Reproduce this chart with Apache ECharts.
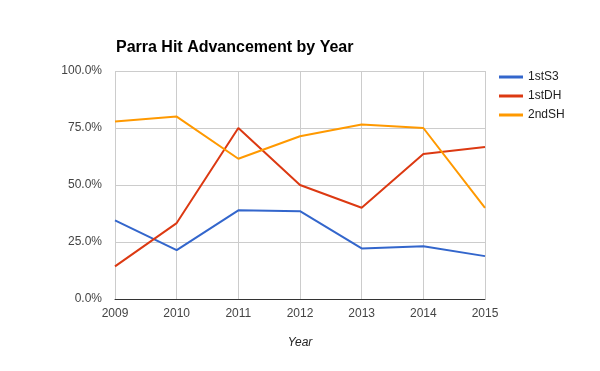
<!DOCTYPE html>
<html><head><meta charset="utf-8">
<script src="https://cdn.jsdelivr.net/npm/echarts@6/dist/echarts.min.js"></script>
<style>html,body{margin:0;padding:0;background:#fff}#c{width:600px;height:371px}</style>
</head><body><div id="c"></div>
<script>
var years = ['2009','2010','2011','2012','2013','2014','2015'];
var s1stS3 = [0.345, 0.214, 0.389, 0.385, 0.222, 0.231, 0.188];
var s1stDH = [0.143, 0.333, 0.75, 0.5, 0.4, 0.636, 0.667];
var s2ndSH = [0.778, 0.8, 0.615, 0.714, 0.765, 0.75, 0.4];
var yTicks = [0, 0.25, 0.5, 0.75, 1];

var font = 'Arial, "Liberation Sans", sans-serif';
var chart = echarts.init(document.getElementById('c'), null, {renderer:'canvas'});
function mk(name, data, color){
  return {name:name, type:'line', data:data, symbol:'none', smooth:false,
    lineStyle:{width:2, color:color}, itemStyle:{color:color}, animation:false};
}
chart.setOption({
  animation:false,
  title:{text:'Parra Hit Advancement by Year', left:111, top:35,
    textStyle:{fontFamily:font, fontSize:16, fontWeight:'bold', color:'#000'}},
  legend:{orient:'vertical', left:494, top:66, icon:'rect', itemWidth:24, itemHeight:3, itemGap:7,
    textStyle:{fontFamily:font, fontSize:12, color:'#222'},
    data:['1stS3','1stDH','2ndSH']},
  grid:{left:115, right:115, top:71, bottom:72},
  xAxis:{type:'category', data:years, boundaryGap:false,
    name:'Year', nameLocation:'middle', nameGap:38,
    nameTextStyle:{fontFamily:font, fontSize:12, fontStyle:'italic', color:'#222'},
    axisLine:{lineStyle:{color:'#333', width:1}}, axisTick:{show:false},
    axisLabel:{fontFamily:font, fontSize:12, color:'#444', margin:9, interval:0},
    splitLine:{show:true, lineStyle:{color:'#ccc', width:1}}},
  yAxis:{type:'value', min:yTicks[0], max:yTicks[yTicks.length-1], interval:0.25,
    axisLine:{show:false}, axisTick:{show:false},
    axisLabel:{fontFamily:font, fontSize:12, color:'#444', margin:13,
      formatter:function(v){return (v*100).toFixed(1)+'%';}},
    splitLine:{show:true, lineStyle:{color:'#ccc', width:1}}},
  series:[mk('1stS3', s1stS3, '#3366CC'), mk('1stDH', s1stDH, '#DC3912'), mk('2ndSH', s2ndSH, '#FF9900')]
});
</script></body></html>
